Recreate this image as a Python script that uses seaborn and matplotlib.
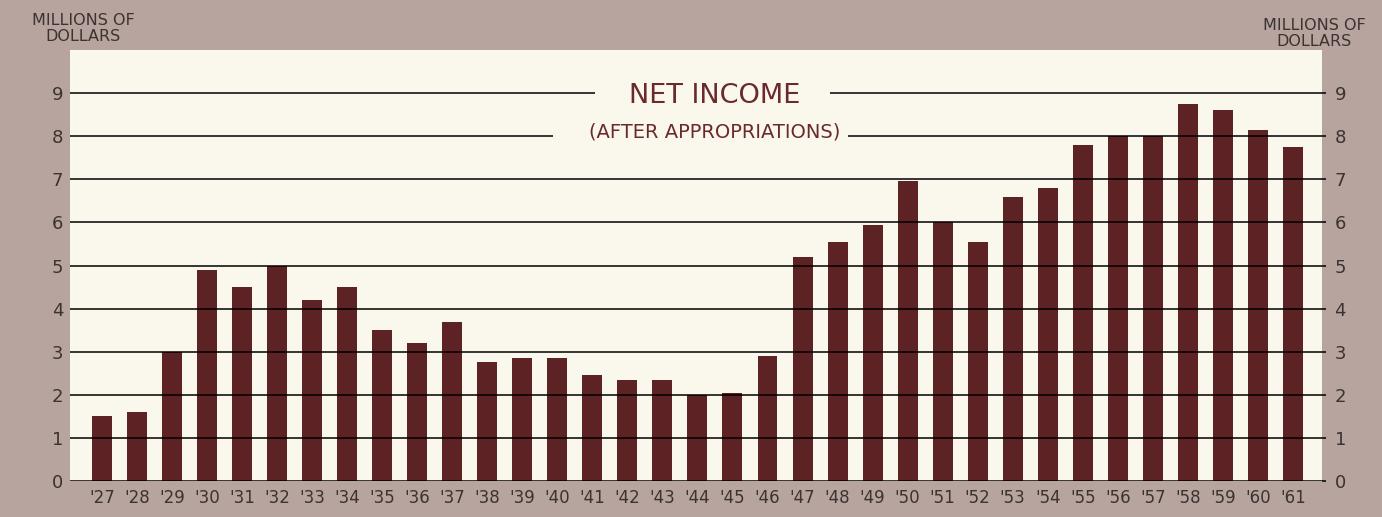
import pandas as pd
import matplotlib.pyplot as plt
import seaborn as sns
from matplotlib.patches import Rectangle

# net income, millions of dollars, 1927-1961
years = ["'27", "'28", "'29", "'30", "'31", "'32", "'33", "'34", "'35", "'36",
         "'37", "'38", "'39", "'40", "'41", "'42", "'43", "'44", "'45", "'46",
         "'47", "'48", "'49", "'50", "'51", "'52", "'53", "'54", "'55", "'56",
         "'57", "'58", "'59", "'60", "'61"]
income = [1.5, 1.6, 3.0, 4.9, 4.5, 5.0, 4.2, 4.5, 3.5, 3.2,
          3.7, 2.75, 2.85, 2.85, 2.45, 2.35, 2.35, 2.0, 2.05, 2.9,
          5.2, 5.55, 5.95, 6.95, 6.0, 5.55, 6.6, 6.8, 7.8, 8.0,
          8.0, 8.75, 8.6, 8.15, 7.75]
yticks = list(range(10))

frame = '#b8a49e'
cream = '#faf7ec'
bar_col = '#5c2224'
text_col = '#3b3232'
title_col = '#6a2a2c'

sns.set_style('white')
plt.rcParams['font.family'] = ['DejaVu Sans']

df = pd.DataFrame({'year': years, 'income': income})

fig = plt.figure(figsize=(13.82, 5.17), dpi=100, facecolor=frame)
ax = fig.add_axes([0.0507, 0.0696, 0.9059, 0.8337])
ax.set_facecolor(cream)

sns.barplot(data=df, x='year', y='income', color=bar_col, width=0.57,
            saturation=1, linewidth=0, ax=ax, zorder=2)

# horizontal rules drawn over the bars
for t in yticks:
    ax.axhline(t, color='black', lw=1.1, zorder=3)

ax.set_xlim(-0.91, 34.83)
ax.set_ylim(0, 10)
ax.set_yticks(yticks)
ax.set_xlabel('')
ax.set_ylabel('')
for s in ax.spines.values():
    s.set_visible(False)
ax.tick_params(axis='y', length=0, pad=5, labelsize=13, labelcolor=text_col)
ax.tick_params(axis='x', length=0, pad=6, labelsize=12, labelcolor=text_col)

ax2 = ax.twinx()
ax2.set_ylim(0, 10)
ax2.set_yticks(yticks)
for s in ax2.spines.values():
    s.set_visible(False)
ax2.tick_params(axis='y', length=3, width=1.1, color='black', pad=6,
                labelsize=13, labelcolor=text_col)

# gaps in the rules behind the title
ax.add_patch(Rectangle((14.07, 8.8), 6.71, 0.4, facecolor=cream,
                       edgecolor='none', zorder=4))
ax.add_patch(Rectangle((12.87, 7.85), 8.43, 0.4, facecolor=cream,
                       edgecolor='none', zorder=4))
ax.text(17.5, 8.93, 'NET INCOME', ha='center', va='center', fontsize=19.5,
        color=title_col, zorder=5)
ax.text(17.5, 8.09, '(AFTER APPROPRIATIONS)', ha='center', va='center',
        fontsize=14, color=title_col, zorder=5)

fig.text(0.06, 0.945, 'MILLIONS OF\nDOLLARS', ha='center', va='center',
         fontsize=11.5, color=text_col, linespacing=1.05)
fig.text(0.951, 0.935, 'MILLIONS OF\nDOLLARS', ha='center', va='center',
         fontsize=11.5, color=text_col, linespacing=1.05)

fig.savefig('out.png', dpi=100, facecolor=frame)
